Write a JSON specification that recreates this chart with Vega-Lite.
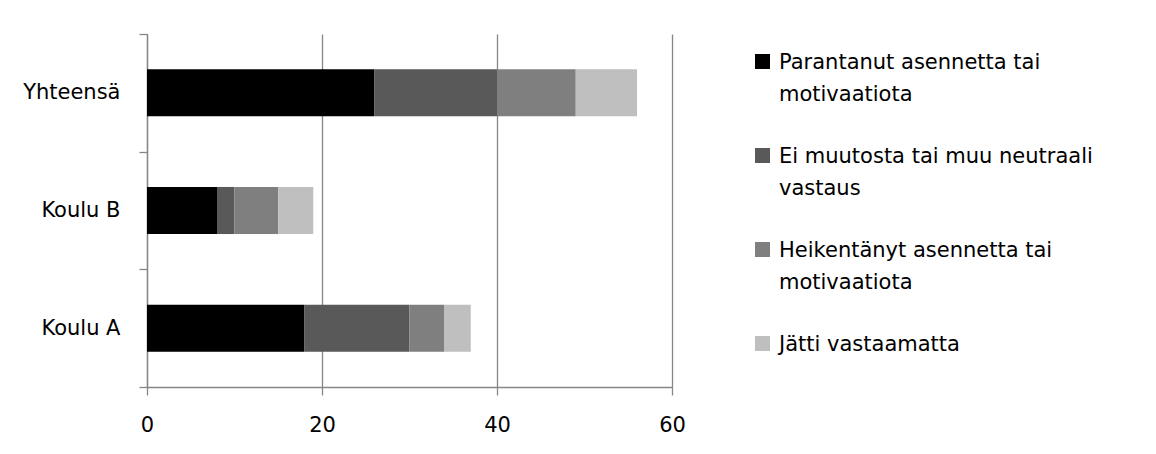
{
  "$schema": "https://vega.github.io/schema/vega-lite/v6.json",
  "width": 525,
  "height": 353,
  "autosize": {"type": "none"},
  "padding": {"left": 147, "top": 34, "right": 484, "bottom": 67},
  "background": "#ffffff",
  "data": {
    "values": [
      {"ryhma": "Yhteensä", "vastaus": "Parantanut asennetta tai motivaatiota", "jarjestys": 1, "n": 26},
      {"ryhma": "Yhteensä", "vastaus": "Ei muutosta tai muu neutraali vastaus", "jarjestys": 2, "n": 14},
      {"ryhma": "Yhteensä", "vastaus": "Heikentänyt asennetta tai motivaatiota", "jarjestys": 3, "n": 9},
      {"ryhma": "Yhteensä", "vastaus": "Jätti vastaamatta", "jarjestys": 4, "n": 7},
      {"ryhma": "Koulu B", "vastaus": "Parantanut asennetta tai motivaatiota", "jarjestys": 1, "n": 8},
      {"ryhma": "Koulu B", "vastaus": "Ei muutosta tai muu neutraali vastaus", "jarjestys": 2, "n": 2},
      {"ryhma": "Koulu B", "vastaus": "Heikentänyt asennetta tai motivaatiota", "jarjestys": 3, "n": 5},
      {"ryhma": "Koulu B", "vastaus": "Jätti vastaamatta", "jarjestys": 4, "n": 4},
      {"ryhma": "Koulu A", "vastaus": "Parantanut asennetta tai motivaatiota", "jarjestys": 1, "n": 18},
      {"ryhma": "Koulu A", "vastaus": "Ei muutosta tai muu neutraali vastaus", "jarjestys": 2, "n": 12},
      {"ryhma": "Koulu A", "vastaus": "Heikentänyt asennetta tai motivaatiota", "jarjestys": 3, "n": 4},
      {"ryhma": "Koulu A", "vastaus": "Jätti vastaamatta", "jarjestys": 4, "n": 3}
    ]
  },
  "mark": {"type": "bar", "height": {"band": 0.4}},
  "encoding": {
    "y": {
      "field": "ryhma",
      "type": "nominal",
      "sort": ["Yhteensä", "Koulu B", "Koulu A"],
      "scale": {"paddingInner": 0, "paddingOuter": 0},
      "axis": {
        "title": null,
        "grid": false,
        "tickBand": "extent",
        "tickSize": 8,
        "tickColor": "#868686",
        "tickWidth": 1.3,
        "domainColor": "#868686",
        "domainWidth": 1.3,
        "labelPadding": 19,
        "labelFont": "DejaVu Sans",
        "labelFontSize": 21,
        "labelColor": "#000000"
      }
    },
    "x": {
      "field": "n",
      "type": "quantitative",
      "stack": "zero",
      "scale": {"domain": [0, 60], "nice": false},
      "axis": {
        "title": null,
        "values": [0, 20, 40, 60],
        "grid": true,
        "gridColor": "#868686",
        "gridWidth": 1.3,
        "tickSize": 8,
        "tickColor": "#868686",
        "tickWidth": 1.3,
        "domainColor": "#868686",
        "domainWidth": 1.3,
        "labelPadding": 19,
        "labelFont": "DejaVu Sans",
        "labelFontSize": 21,
        "labelColor": "#000000",
        "labelFlush": false
      }
    },
    "order": {"field": "jarjestys", "type": "quantitative", "sort": "ascending"},
    "color": {
      "field": "vastaus",
      "type": "nominal",
      "sort": [
        "Parantanut asennetta tai motivaatiota",
        "Ei muutosta tai muu neutraali vastaus",
        "Heikentänyt asennetta tai motivaatiota",
        "Jätti vastaamatta"
      ],
      "scale": {
        "domain": [
          "Parantanut asennetta tai motivaatiota",
          "Ei muutosta tai muu neutraali vastaus",
          "Heikentänyt asennetta tai motivaatiota",
          "Jätti vastaamatta"
        ],
        "range": ["#000000", "#595959", "#7f7f7f", "#bfbfbf"]
      },
      "legend": {
        "title": null,
        "orient": "none",
        "legendX": 605,
        "legendY": 17,
        "padding": 0,
        "symbolType": "square",
        "symbolSize": 225,
        "symbolStrokeWidth": 0,
        "labelOffset": 6,
        "labelLimit": 500,
        "labelFont": "DejaVu Sans",
        "labelFontSize": 21,
        "labelColor": "#000000",
        "labelBaseline": "top",
        "rowPadding": 40,
        "labelExpr": "datum.label == 'Parantanut asennetta tai motivaatiota' ? ['Parantanut asennetta tai', 'motivaatiota'] : datum.label == 'Ei muutosta tai muu neutraali vastaus' ? ['Ei muutosta tai muu neutraali', 'vastaus'] : datum.label == 'Heikentänyt asennetta tai motivaatiota' ? ['Heikentänyt asennetta tai', 'motivaatiota'] : datum.label",
        "encode": {
          "labels": {"update": {"lineHeight": {"value": 32}, "dy": {"value": -10}}}
        }
      }
    }
  },
  "config": {
    "view": {"stroke": null}
  }
}
